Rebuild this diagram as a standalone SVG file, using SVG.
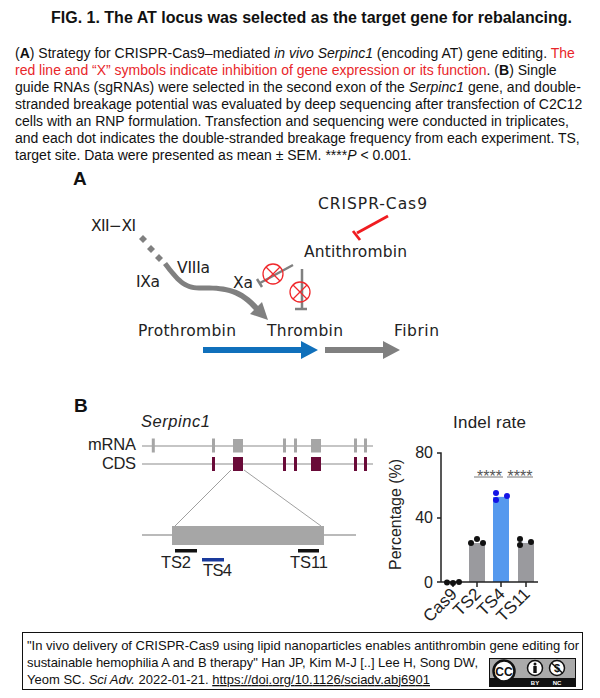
<svg xmlns="http://www.w3.org/2000/svg" width="600" height="698" viewBox="0 0 600 698">
<style>
text{font-family:"Liberation Sans",Arial,sans-serif;fill:#111}
.body{font-size:14px}
.red{fill:#e8262a}
.lab{font-family:"DejaVu Sans",sans-serif;font-size:15.5px;fill:#222}
.labb{font-size:16.5px;fill:#222}
.hd{font-size:19px;font-weight:bold;fill:#111}
.ch{font-size:16px;fill:#222}
.tk{font-size:17px;fill:#222}
.st{font-size:16px;fill:#555}
.grn{fill:none;stroke:#808080;stroke-width:2.5}
.x{fill:none;stroke:#f0282c;stroke-width:1.3}
.ex{fill:#a6a6a6}
.cd{fill:#690a38}
.gl{stroke:#8c8c8c;stroke-width:1.2;fill:none}
.ax{stroke:#222;stroke-width:1.5;fill:none}
.dk{fill:#111}
.bl{fill:#1414e6}
.cit{font-size:13px}
</style>
<rect width="600" height="698" fill="#fff"/>
<g id="caption">
<text x="51" y="23" font-size="16" font-weight="bold">FIG. 1. The AT locus was selected as the target gene for rebalancing.</text>
<text class="body" x="15" y="58">(<tspan font-weight="bold">A</tspan>) Strategy for CRISPR-Cas9–mediated <tspan font-style="italic">in vivo Serpinc1</tspan> (encoding AT) gene editing. <tspan class="red">The</tspan></text>
<text class="body" x="15" y="75"><tspan class="red">red line and “X” symbols indicate inhibition of gene expression or its function</tspan>. (<tspan font-weight="bold">B</tspan>) Single</text>
<text class="body" x="15" y="92">guide RNAs (sgRNAs) were selected in the second exon of the <tspan font-style="italic">Serpinc1</tspan> gene, and double-</text>
<text class="body" x="15" y="109">stranded breakage potential was evaluated by deep sequencing after transfection of C2C12</text>
<text class="body" x="15" y="126">cells with an RNP formulation. Transfection and sequencing were conducted in triplicates,</text>
<text class="body" x="15" y="143">and each dot indicates the double-stranded breakage frequency from each experiment. TS,</text>
<text class="body" x="15" y="160">target site. Data were presented as mean ± SEM. ****<tspan font-style="italic">P</tspan> &lt; 0.001.</text>
</g>
<g id="panel-a">
<text class="hd" x="73" y="185">A</text>
<g id="connectors-a">
<path d="M388 216L357 233" fill="none" stroke="#f01c20" stroke-width="2.800"/>
<path d="M353 231L360 240" fill="none" stroke="#f01c20" stroke-width="2.800"/>
<g fill="#808080"><path d="M143 235L147 239L143 243L139 239Z"/><path d="M151 245L155 249L151 253L147 249Z"/><path d="M159 254L163 258L159 262L155 258Z"/></g>
<path d="M163 265C176 282 183 290 199 290.500C222 290 238 291 255 311L259 307C240 285 222 285.500 199 285.500C186 285.500 180 279 167 262Z" fill="#808080"/>
<path d="M268 320L262 302L250 314Z" fill="#808080"/>
<path class="grn" d="M293 265L260 283M257 279L262 287M302 269V309M295 309H307"/>
<path d="M203 347H301V341L318 350L301 359V353H203Z" fill="#1070bb"/>
<path d="M325 347H383V341L400 350L383 359V353H325Z" fill="#808080"/>
</g>
<g id="x-1"><circle class="x" cx="273" cy="274" r="10"/><path class="x" d="M266 267L280 281M280 267L266 281"/></g>
<g id="x-2"><circle class="x" cx="300" cy="292" r="10"/><path class="x" d="M293 285L307 299M307 285L293 299"/></g>
<text class="lab" id="crispr" x="318" y="209" textLength="109">CRISPR-Cas9</text>
<text class="lab" id="antithrombin" x="304" y="257" textLength="103">Antithrombin</text>
<text class="lab" id="xii" x="91" y="231" textLength="45">XII−XI</text>
<text class="lab" id="viiia" x="177" y="273" textLength="33">VIIIa</text>
<text class="lab" id="ixa" x="136" y="287" textLength="24">IXa</text>
<text class="lab" id="xa" x="233" y="288" textLength="20">Xa</text>
<text class="lab" id="prothrombin" x="138" y="336" textLength="98">Prothrombin</text>
<text class="lab" id="thrombin" x="267" y="336" textLength="76">Thrombin</text>
<text class="lab" id="fibrin" x="394" y="336" textLength="45">Fibrin</text>
</g>
<g id="panel-b">
<text class="hd" x="74" y="412">B</text>
<text class="labb" x="141" y="427" font-style="italic" textLength="69">Serpinc1</text>
<text class="labb" x="88" y="450" textLength="48">mRNA</text>
<text class="labb" x="102" y="469" textLength="34">CDS</text>
<g id="gene-tracks">
<path class="gl" d="M142 446H373M142 464H373"/>
<path d="M231 470L175 526M244 470L321 526" fill="none" stroke="#888" stroke-width="0.800"/>
<path d="M142 535H356" fill="none" stroke="#777" stroke-width="1.200"/>
<g class="ex"><rect x="151.800" y="438.500" width="3" height="14"/><rect x="212" y="438.500" width="3" height="14"/><rect x="283" y="438.500" width="3" height="14"/><rect x="294" y="438.500" width="3" height="14"/><rect x="354" y="438.500" width="3" height="14"/><rect x="364" y="438.500" width="3" height="14"/><rect x="233" y="439" width="10" height="13.500"/><rect x="311" y="439" width="10" height="13.500"/></g>
<g class="cd"><rect x="212" y="457" width="3" height="14"/><rect x="283" y="457" width="3" height="14"/><rect x="294" y="457" width="3" height="14"/><rect x="354" y="457" width="3" height="14"/><rect x="364" y="457" width="3" height="14"/><rect x="233" y="457" width="10" height="14"/><rect x="311" y="457" width="10" height="14"/></g>
<rect x="172" y="526" width="152" height="19" fill="#a6a6a6"/>
<rect x="175" y="549" width="22" height="3.500" fill="#111"/>
<rect x="202" y="558" width="22" height="3.500" fill="#1a3a9c"/>
<rect x="298" y="549" width="21" height="3.500" fill="#111"/>
</g>
<text class="labb" x="161" y="568" textLength="30">TS2</text>
<text class="labb" x="203" y="576" textLength="29">TS4</text>
<text class="labb" x="290" y="568" textLength="38">TS11</text>
</g>
<g id="chart">
<text class="tk" x="453" y="428" textLength="73">Indel rate</text>
<rect x="469" y="543" width="16" height="39" fill="#9a9a9e"/>
<rect x="493" y="497" width="16" height="85" fill="#5599ee"/>
<rect x="518" y="543" width="16" height="39" fill="#9a9a9e"/>
<path class="ax" d="M437 453H441V582M437 518H441M437 582H538M453 582V587M477 582V587M501 582V587M526 582V587"/>
<text class="ch" x="433" y="458" text-anchor="end">80</text>
<text class="ch" x="433" y="523" text-anchor="end">40</text>
<text class="ch" x="433" y="588" text-anchor="end">0</text>
<text class="ch" transform="translate(401 570) rotate(-90)">Percentage (%)</text>
<path d="M474 477H503M507 477H533" stroke="#777" stroke-width="1" fill="none"/>
<text class="st" x="489.500" y="482" text-anchor="middle">****</text>
<text class="st" x="520" y="482" text-anchor="middle">****</text>
<path d="M496 496.500H507M520 542H531" stroke="#e8eefc" stroke-width="1.200" fill="none"/>
<g class="dk"><circle cx="447" cy="582.500" r="3"/><circle cx="453" cy="583" r="3"/><circle cx="459" cy="582" r="3"/><circle cx="471" cy="543" r="3"/><circle cx="477" cy="539" r="3"/><circle cx="483" cy="543" r="3"/><circle cx="520" cy="539" r="3"/><circle cx="520" cy="545" r="3"/><circle cx="531" cy="542" r="3"/></g>
<g class="bl"><circle cx="496" cy="493" r="3"/><circle cx="496" cy="500" r="3"/><circle cx="507" cy="496" r="3"/></g>
<text class="tk" text-anchor="end" transform="translate(458 595) rotate(-45)">Cas9</text>
<text class="tk" text-anchor="end" transform="translate(482 595) rotate(-45)">TS2</text>
<text class="tk" text-anchor="end" transform="translate(506 595) rotate(-45)">TS4</text>
<text class="tk" text-anchor="end" transform="translate(531 595) rotate(-45)">TS11</text>
</g>
<g id="citation">
<rect x="22.500" y="632.500" width="560" height="57" fill="#fff" stroke="#111" stroke-width="1"/>
<text class="cit" x="27" y="650" textLength="552">"In vivo delivery of CRISPR-Cas9 using lipid nanoparticles enables antithrombin gene editing for</text>
<text class="cit" x="27" y="667" textLength="451">sustainable hemophilia A and B therapy" Han JP, Kim M-J [..] Lee H, Song DW,</text>
<text class="cit" x="27" y="684" textLength="403">Yeom SC. <tspan font-style="italic">Sci Adv.</tspan> 2022-01-21. <tspan text-decoration="underline">https://doi.org/10.1126/sciadv.abj6901</tspan></text>
<g id="cc-badge">
<rect x="489" y="658" width="87" height="29" fill="#111"/>
<rect x="490" y="659" width="85" height="19" fill="#aaa"/>
<circle cx="504" cy="671" r="10.500" fill="#fff" stroke="#111" stroke-width="2.500"/>
<text x="504" y="675.500" font-size="12" font-weight="bold" text-anchor="middle">CC</text>
<circle cx="535" cy="668" r="7.500" fill="#fff" stroke="#111" stroke-width="1.500"/>
<circle cx="535" cy="664" r="1.500" fill="#111"/><rect x="533.300" y="666" width="3.400" height="7" fill="#111"/>
<circle cx="557" cy="668" r="7.500" fill="#fff" stroke="#111" stroke-width="1.500"/>
<text x="557" y="672" font-size="11" font-weight="bold" text-anchor="middle">$</text>
<path d="M551.500 663L562.500 673" stroke="#111" stroke-width="1.500"/>
<text x="535" y="685" font-size="6" font-weight="bold" text-anchor="middle" style="fill:#fff">BY</text>
<text x="557" y="685" font-size="6" font-weight="bold" text-anchor="middle" style="fill:#fff">NC</text>
</g>
</g>
</svg>
